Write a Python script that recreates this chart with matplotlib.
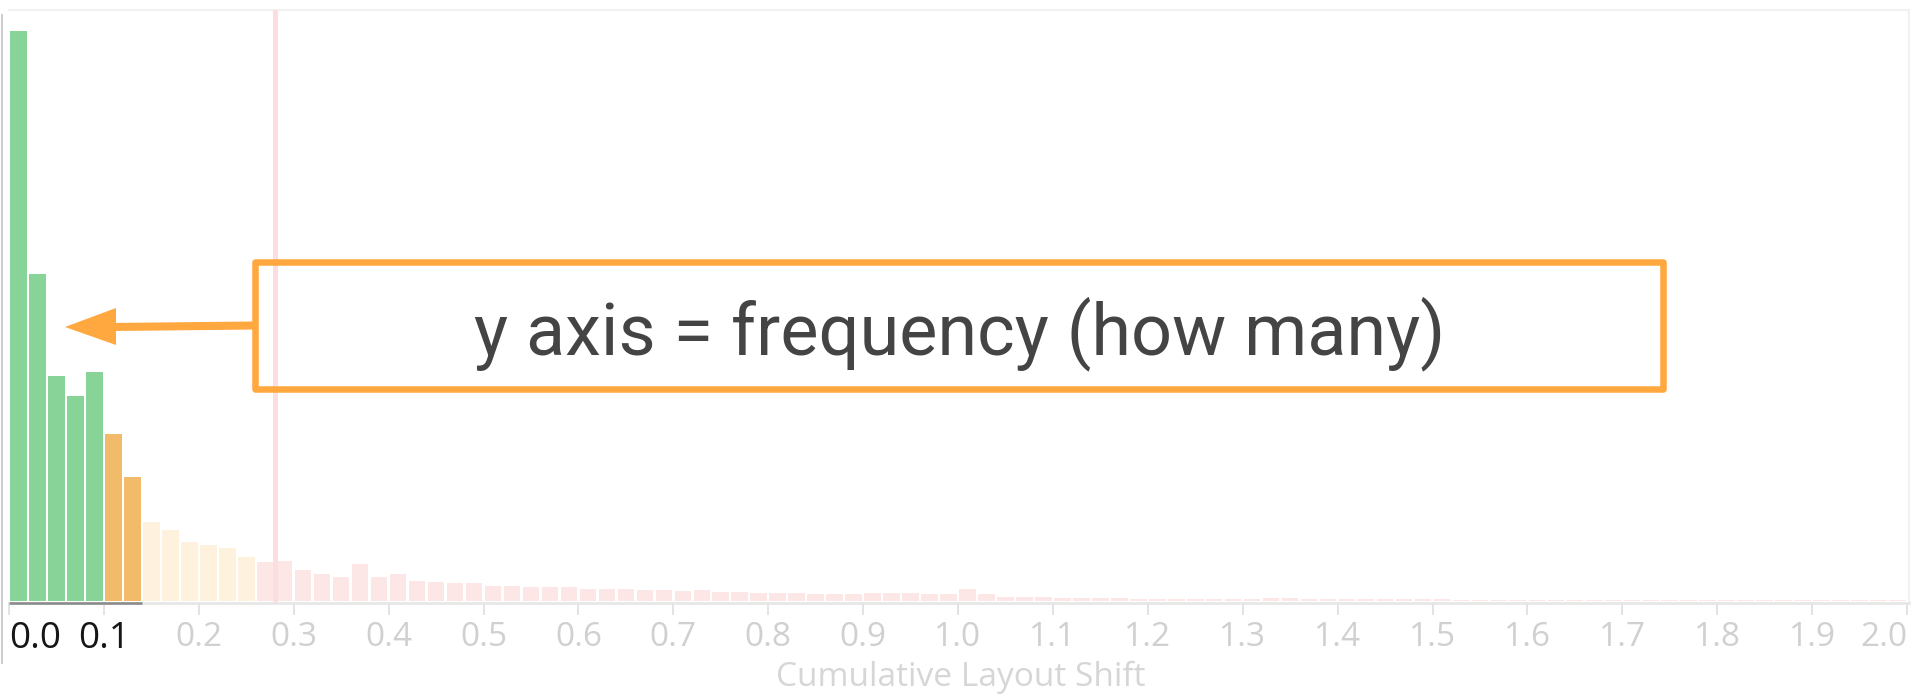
import numpy as np
import matplotlib
matplotlib.use("Agg")
import matplotlib.pyplot as plt
from matplotlib.lines import Line2D
from matplotlib.patches import Rectangle, Polygon

# ---------------- data ----------------
bin_width = 0.02
# frequency per CLS bin (bins of 0.02 starting at 0.00)
freq = [
    129.0, 74.0, 51.0, 46.3, 51.7, 37.8, 28.0, 17.9, 16.1, 13.3,   # 0.00 - 0.18
    12.7, 12.1, 10.0, 8.75, 9.0, 7.0, 6.2, 5.5, 8.45, 5.4,         # 0.20 - 0.38
    6.0, 4.5, 4.2, 4.0, 4.0, 3.5, 3.5, 3.2, 3.2, 3.1,              # 0.40 - 0.58
    2.7, 2.7, 2.7, 2.6, 2.4, 2.3, 2.6, 2.1, 2.1, 1.9,              # 0.60 - 0.78
    1.7, 1.7, 1.66, 1.5, 1.5, 1.7, 1.9, 1.7, 1.5, 1.5,             # 0.80 - 0.98
    2.7, 1.5, 0.95, 0.85, 0.8, 0.7, 0.7, 0.65, 0.6, 0.55,          # 1.00 - 1.18
    0.55, 0.5, 0.5, 0.5, 0.5, 0.45, 0.6, 0.6, 0.55, 0.55,          # 1.20 - 1.38
    0.45, 0.4, 0.4, 0.35, 0.35, 0.35, 0.3, 0.3, 0.3, 0.3,          # 1.40 - 1.58
    0.3, 0.28, 0.28, 0.25, 0.25, 0.25, 0.22, 0.22, 0.2, 0.2,       # 1.60 - 1.78
    0.2, 0.2, 0.18, 0.18, 0.18, 0.15, 0.15, 0.15, 0.15, 0.15,      # 1.80 - 1.98
    2.6,                                                           # >= 2.00 (overflow)
]
good_limit = 0.1
poor_limit = 0.25
selected_max = 0.14
p75_value = 0.28
tick_values = [0.0, 0.1, 0.2, 0.3, 0.4, 0.5, 0.6, 0.7, 0.8, 0.9, 1.0,
               1.1, 1.2, 1.3, 1.4, 1.5, 1.6, 1.7, 1.8, 1.9, 2.0]
tick_labels = ["0.0", "0.1", "0.2", "0.3", "0.4", "0.5", "0.6", "0.7", "0.8", "0.9", "1.0",
               "1.1", "1.2", "1.3", "1.4", "1.5", "1.6", "1.7", "1.8", "1.9", "2.0"]
x_label = "Cumulative Layout Shift"
note_text = "y axis = frequency (how many)"

# ---------------- style ----------------
W, H = 1913, 694
GREEN = "#88d498"
ORANGE = "#f2bb69"
ORANGE_FADED = "#fef2df"
RED_FADED = "#fde6e6"
ANNOT = "#ffa83f"

def px(x, y):
    return (x / W, 1 - y / H)

fig = plt.figure(figsize=(W / 100, H / 100), dpi=100)
ax = fig.add_axes([9 / W, 91 / H, 1900 / W, 593 / H])

starts = np.arange(len(freq)) * bin_width
colors = []
for s in starts:
    sel = s < selected_max - 1e-9
    if s < good_limit - 1e-9:
        colors.append(GREEN if sel else "#e6f5ea")
    elif s < poor_limit - 1e-9:
        colors.append(ORANGE if sel else ORANGE_FADED)
    else:
        colors.append(RED_FADED)

ax.bar(starts + bin_width / 2, freq, width=bin_width * 0.87, color=colors,
       linewidth=0, zorder=2)

ax.axvline(p75_value, color="#fcdede", lw=3.6, zorder=3)

ax.set_xlim(0, 2.0021)
ax.set_ylim(-0.45, 133.7)
ax.set_yticks([])

for side in ["top", "right"]:
    ax.spines[side].set_color("#f1f1f1")
    ax.spines[side].set_linewidth(1.5)
ax.spines["left"].set_visible(False)
ax.spines["bottom"].set_color("#e6e6e6")
ax.spines["bottom"].set_linewidth(1.9)

# darker axis segment over the selected range
ax.plot([0, selected_max], [-0.45, -0.45], color="#8c8c8c", lw=1.9,
        solid_capstyle="butt", clip_on=False, zorder=5)

ax.set_xticks(tick_values)
ax.set_xticklabels(tick_labels)
ax.tick_params(axis="x", length=8.6, width=1.4, color="#e3e3e3", pad=4,
               labelsize=24, labelcolor="#d0d0d0")
for lab in ax.get_xticklabels():
    lab.set_fontfamily("Open Sans")
ticks = ax.xaxis.get_major_ticks()
labels = ax.get_xticklabels()
for i in (0, 1):
    ticks[i].tick1line.set_color("#8c8c8c")
    labels[i].set_color("#161616")
    labels[i].set_fontsize(26.5)
labels[0].set_horizontalalignment("left")
labels[-1].set_horizontalalignment("right")

fig.text(*px(961, 677), x_label, ha="center", va="center", fontsize=24.1,
         color="#d6d6d6", family="Open Sans")

# left edge line of the screenshot
fig.add_artist(Line2D([2 / W, 2 / W], [1 - 15 / H, 1 - 663 / H], color="#cccccc", lw=1.4))

# annotation box
x0, y0 = px(254.5, 388.5)
x1, y1 = px(1662.5, 262)
fig.add_artist(Rectangle((x0, y0), x1 - x0, y1 - y0, transform=fig.transFigure,
                         fill=False, edgecolor=ANNOT, lw=4.7, joinstyle="round", zorder=10))
# arrow shaft + head
fig.add_artist(Line2D([px(254, 325.5)[0], px(112, 327)[0]],
                      [px(254, 325.5)[1], px(112, 327)[1]],
                      color=ANNOT, lw=5.8, solid_capstyle="butt", zorder=10))
fig.add_artist(Polygon([px(65, 327), px(116, 308), px(116, 345)], closed=True,
                       transform=fig.transFigure, facecolor=ANNOT, edgecolor="none", zorder=10))

fig.text(*px(960, 354), note_text, ha="center", va="baseline", fontsize=51.8,
         color="#444444", family="Roboto", zorder=11)

fig.savefig("out.png", dpi=100)
